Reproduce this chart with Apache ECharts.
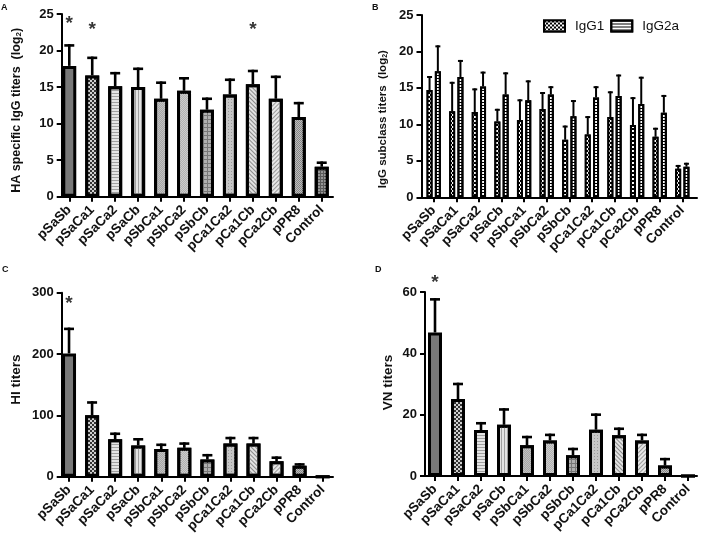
<!DOCTYPE html>
<html>
<head>
<meta charset="utf-8">
<script src="https://cdn.jsdelivr.net/npm/echarts@6/dist/echarts.min.js"></script>
<style>html,body{margin:0;padding:0;background:#fff}#c{width:708px;height:542px}</style>
</head>
<body>
<div id="c"></div>
<script>
// ---------------- data ----------------
const categories = ['pSaSb','pSaCa1','pSaCa2','pSaCb','pSbCa1','pSbCa2','pSbCb','pCa1Ca2','pCa1Cb','pCa2Cb','pPR8','Control'];

// Panel A: HA specific IgG titers (log2) — mean and top of error bar
const haMean = [17.9,16.6,15.1,15.0,13.4,14.5,11.9,14.0,15.4,13.4,10.9,4.1];
const haErrTop = [20.7,19.0,16.9,17.5,15.6,16.2,13.4,16.0,17.2,16.4,12.8,4.65];
const haStars = [23.6,22.9,null,null,null,null,null,null,22.9,null,null,null];

// Panel B: IgG subclass titers (log2)
const igg1Mean = [14.7,11.8,11.7,10.4,10.6,12.1,7.9,8.6,11.0,9.9,8.3,3.9];
const igg1ErrTop = [16.5,15.7,14.8,12.0,13.3,14.3,9.7,11.0,14.4,13.6,9.4,4.3];
const igg2aMean = [17.3,16.5,15.2,14.1,13.3,14.1,11.1,13.7,13.9,12.8,11.6,4.2];
const igg2aErrTop = [20.7,18.7,17.1,17.0,15.9,15.1,13.2,15.1,16.7,16.4,13.9,4.6];

// Panel C: HI titers
const hiMean = [201,100,61,51,45,47,28,54,54,25,18,0];
const hiErrTop = [241,121,70,61,52,54,35,63,63,31,20,0];
const hiStars = [282,null,null,null,null,null,null,null,null,null,null,null];

// Panel D: VN titers
const vnMean = [46.8,25.1,15.0,16.7,10.0,11.6,6.8,15.1,13.3,11.6,3.4,0];
const vnErrTop = [57.6,30.0,17.2,21.7,12.7,13.4,8.8,20.0,15.4,13.4,5.5,0];
const vnStars = [63,null,null,null,null,null,null,null,null,null,null,null];

// ---------------- styles ----------------
const FONT = "'Liberation Sans', Arial, Helvetica, sans-serif";
function dec(color, dx, dy, rot) {
  return {symbol:'rect', symbolSize:1, symbolKeepAspect:false, color:color, dashArrayX:dx, dashArrayY:dy, rotation:rot||0};
}
const CHECK2 = [[2,2],[0,2,2,0]];
const CHECK1 = [[1,1],[0,1,1,0]];
const patterns = [
  {color:'#787878', decal:null},
  {color:'#333333', decal:dec('#d0d0d0', CHECK2, [2,0])},
  {color:'#e4e4e4', decal:dec('#a0a0a0', [1,0], [1,2])},
  {color:'#e4e4e4', decal:dec('#a0a0a0', [1,2], [1,0])},
  {color:'#c2c2c2', decal:dec('#a6a6a6', CHECK1, [1,0])},
  {color:'#cccccc', decal:dec('#b0b0b0', CHECK1, [1,0])},
  {color:'#777777', decal:dec('#b0b0b0', [3,1], [3,1])},
  {color:'#c6c6c6', decal:dec('#9a9a9a', [1,2], [1,2])},
  {color:'#e2e2e2', decal:dec('#8a8a8a', [1,0], [1,2], Math.PI/4)},
  {color:'#e8e8e8', decal:dec('#9a9a9a', [1,0], [1,2], -Math.PI/4)},
  {color:'#858585', decal:dec('#bdbdbd', CHECK1, [1,0])},
  {color:'#5a5a5a', decal:dec('#969696', [2,1], [2,1])}
];

// panel geometry: data grid (category band) and axis grid (visible axes)
const panels = [
  {data:{left:57.8, top:14, width:275.4, height:182.7}, axis:{left:61.7, top:14, width:271.3, height:182.7}, max:25, interval:5,
   name:'HA specific IgG titers  (log{s|2})', nameGap:39, nameSize:12.5, namePad:[0,10,0,0]},
  {data:{left:422.4, top:15, width:271.2, height:182.3}, axis:{left:421.5, top:15, width:275.5, height:182.3}, max:25, interval:5,
   name:'IgG subclass titers  (log{s|2})', nameGap:33, nameSize:11.5, namePad:[0,26,0,0]},
  {data:{left:57.5, top:292.7, width:276.7, height:184}, axis:{left:61.7, top:292.7, width:271.3, height:184}, max:300, interval:100,
   name:'HI titers', nameGap:38.5, nameSize:13.5, namePad:[0,0,0,10]},
  {data:{left:423.5, top:292, width:276, height:184}, axis:{left:425, top:292, width:272, height:184}, max:60, interval:20,
   name:'VN titers', nameGap:30, nameSize:13.5, namePad:[0,0,0,3]}
];

const grid = [], xAxis = [], yAxis = [], series = [];
panels.forEach((p, k) => {
  const gd = 2*k, ga = 2*k+1;
  grid.push(p.data, p.axis);
  xAxis.push({
    type:'category', gridIndex:gd, data:categories, boundaryGap:true,
    axisLine:{show:false},
    axisTick:{show:true, alignWithLabel:true, length:5, lineStyle:{color:'#000', width:2}},
    axisLabel:{interval:0, rotate:45, margin:11, fontSize:13.5, fontWeight:'bold', color:'#111', fontFamily:FONT}
  });
  xAxis.push({
    type:'value', gridIndex:ga, min:0, max:1,
    axisLine:{show:true, onZero:false, lineStyle:{color:'#000', width:2}},
    axisTick:{show:false}, axisLabel:{show:false}, splitLine:{show:false}
  });
  yAxis.push({type:'value', gridIndex:gd, min:0, max:p.max, interval:p.interval, show:false, splitLine:{show:false}});
  yAxis.push({
    type:'value', gridIndex:ga, min:0, max:p.max, interval:p.interval,
    axisLine:{show:true, lineStyle:{color:'#000', width:2}},
    axisTick:{show:true, length:5, lineStyle:{color:'#000', width:2}},
    axisLabel:{margin:8, fontSize:13, fontWeight:'bold', color:'#111', fontFamily:FONT},
    splitLine:{show:false},
    name:p.name, nameLocation:'middle', nameGap:p.nameGap,
    nameTextStyle:{fontSize:p.nameSize, fontWeight:'bold', color:'#111', fontFamily:FONT, padding:p.namePad,
      rich:{s:{fontSize:Math.round(p.nameSize*0.65), fontWeight:'bold', color:'#111', fontFamily:FONT, verticalAlign:'bottom'}}}
  });
});

function errorSeries(k, means, tops, offset, capW, lw) {
  return {
    type:'custom', xAxisIndex:2*k, yAxisIndex:2*k, z:1, silent:true,
    data: means.map((m, i) => [i, m, tops[i]]),
    renderItem: function (params, api) {
      const i = api.value(0), m = api.value(1), t = api.value(2);
      if (!(t > m)) return null;
      const p0 = api.coord([i, m]);
      const p1 = api.coord([i, t]);
      const cx = p0[0] + offset;
      return {type:'group', children:[
        {type:'line', shape:{x1:cx, y1:p0[1], x2:cx, y2:p1[1] - lw/2}, style:{stroke:'#000', lineWidth:lw}},
        {type:'line', shape:{x1:cx - capW/2, y1:p1[1], x2:cx + capW/2, y2:p1[1]}, style:{stroke:'#000', lineWidth:lw}}
      ]};
    }
  };
}
function starSeries(k, stars) {
  return {
    type:'scatter', xAxisIndex:2*k, yAxisIndex:2*k, clip:false, silent:true,
    symbolSize:1, itemStyle:{color:'rgba(0,0,0,0)'},
    data: stars.map((v, i) => v == null ? null : [i, v]).filter(d => d),
    label:{show:true, position:'inside', formatter:'*', fontSize:19, fontWeight:'bold', color:'#000', fontFamily:FONT}
  };
}
function patternBars(k, name, means) {
  return {
    type:'bar', name:name, xAxisIndex:2*k, yAxisIndex:2*k, z:2, barWidth:14,
    itemStyle:{borderColor:'#000', borderWidth:3},
    data: means.map((v, i) => ({value:v, itemStyle:{color:patterns[i].color, decal:patterns[i].decal || undefined}}))
  };
}

// Panel A
series.push(errorSeries(0, haMean, haErrTop, 0, 10, 2.6));
series.push(patternBars(0, 'HA', haMean));
series.push(starSeries(0, haStars));
// Panel B
const bw = 6, bgap = 2.3;
series.push(errorSeries(1, igg1Mean, igg1ErrTop, -(bw + bgap)/2, 5, 2));
series.push(errorSeries(1, igg2aMean, igg2aErrTop, (bw + bgap)/2, 5, 2));
series.push({
  type:'bar', name:'IgG1', xAxisIndex:2, yAxisIndex:2, z:2, barWidth:bw, barGap:(bgap/bw*100)+'%',
  itemStyle:{color:'#000', borderColor:'#000', borderWidth:2, decal:dec('#ffffff', CHECK2, [2,0])},
  data: igg1Mean
});
series.push({
  type:'bar', name:'IgG2a', xAxisIndex:2, yAxisIndex:2, z:2, barWidth:bw, barGap:(bgap/bw*100)+'%',
  itemStyle:{color:'#fff', borderColor:'#000', borderWidth:2, decal:dec('#000000', [1,0], [1,2])},
  data: igg2aMean
});
// Panel C
series.push(errorSeries(2, hiMean, hiErrTop, 0, 10, 2.6));
series.push(patternBars(2, 'HI', hiMean));
series.push(starSeries(2, hiStars));
// Panel D
series.push(errorSeries(3, vnMean, vnErrTop, 0, 10, 2.6));
series.push(patternBars(3, 'VN', vnMean));
series.push(starSeries(3, vnStars));

const letterStyle = {fontSize:9, fontWeight:'bold', color:'#111', fontFamily:FONT};
const option = {
  animation:false,
  backgroundColor:'#fff',
  textStyle:{fontFamily:FONT},
  title:[
    {text:'A', left:1, top:3, padding:0, textStyle:letterStyle},
    {text:'B', left:372, top:3, padding:0, textStyle:letterStyle},
    {text:'C', left:2, top:265, padding:0, textStyle:letterStyle},
    {text:'D', left:375, top:265, padding:0, textStyle:letterStyle}
  ],
  legend:{
    data:['IgG1','IgG2a'], left:538, top:14, icon:'rect', itemWidth:21, itemHeight:11, itemGap:6,
    textStyle:{fontSize:13.5, color:'#111', fontFamily:FONT, padding:[0,0,0,5]}
  },
  grid:grid, xAxis:xAxis, yAxis:yAxis, series:series
};
const chart = echarts.init(document.getElementById('c'), null, {renderer:'canvas'});
chart.setOption(option);
</script>
</body>
</html>
